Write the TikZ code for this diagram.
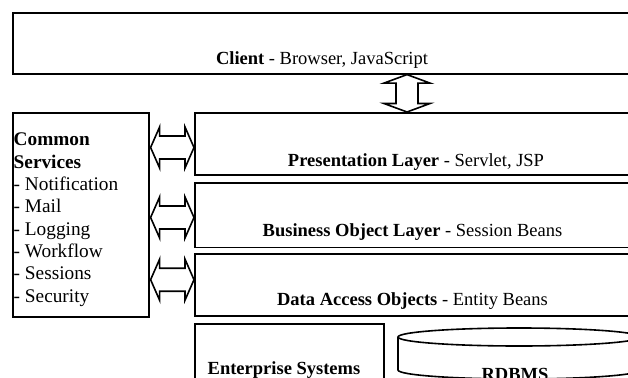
\documentclass[tikz,border=0pt]{standalone}
\usepackage{fontspec}
\setmainfont{Liberation Serif}
\usetikzlibrary{calc}
\tikzset{
  box/.style={draw=black, line width=1.6pt, rectangle, inner sep=0pt, anchor=north west},
  lbl/.style={inner sep=0pt, anchor=base, font=\fontsize{18.5}{22.3}\selectfont},
  blockarrow/.style={draw=black, line width=1.6pt, fill=white, line join=miter},
}
\newcommand\myharrow[2]{%
  \draw[blockarrow] (#1) -- ($(#1)+(9,-20.5)$) -- ($(#1)+(9,-11.5)$) -- ($(#2)+(-9,-11.5)$)
    -- ($(#2)+(-9,-20.5)$) -- (#2) -- ($(#2)+(-9,20.5)$) -- ($(#2)+(-9,11.5)$)
    -- ($(#1)+(9,11.5)$) -- ($(#1)+(9,20.5)$) -- cycle;}
\newcommand\myvarrow[2]{%
  \draw[blockarrow] (#1) -- ($(#1)+(23,8.5)$) -- ($(#1)+(11,8.5)$) -- ($(#2)+(11,-8.5)$)
    -- ($(#2)+(23,-8.5)$) -- (#2) -- ($(#2)+(-23,-8.5)$) -- ($(#2)+(-11,-8.5)$)
    -- ($(#1)+(-11,8.5)$) -- ($(#1)+(-23,8.5)$) -- cycle;}
\begin{document}
\begin{tikzpicture}[x=1pt,y=-1pt]
\useasboundingbox (0,0) rectangle (628,377);
\clip (0,0) rectangle (628,377);
\fill[white] (0,0) rectangle (628,377);
% boxes
\node[box, minimum width=640pt, minimum height=61pt] (client) at (12,12) {};
\node[box, minimum width=136pt, minimum height=204pt] (cs) at (12,112) {};
\node[box, minimum width=450pt, minimum height=62pt] (pres) at (194,112) {};
\node[box, minimum width=450pt, minimum height=64.7pt] (bus) at (194,182) {};
\node[box, minimum width=450pt, minimum height=62pt] (dao) at (194,253) {};
\node[box, minimum width=189pt, minimum height=80pt] (ent) at (194,323) {};
% cylinder
\draw[line width=1.6pt] (398,337) -- (398,370) arc[start angle=180, end angle=0, x radius=121, y radius=9] -- (640,337);
\draw[line width=1.6pt] (519,337) ellipse [x radius=121, y radius=9];
% texts
\node[lbl] (clientt) at (322,65) {\textbf{Client} - Browser, JavaScript};
\node[lbl] (prest) at (416,166.5) {\textbf{Presentation Layer} - Servlet, JSP};
\node[lbl] (bust) at (412.5,236.7) {\textbf{Business Object Layer} - Session Beans};
\node[lbl] (daot) at (412.5,305) {\textbf{Data Access Objects} - Entity Beans};
\node[lbl] (entt) at (284,374) {\textbf{Enterprise Systems}};
\node[lbl] (rdbms) at (515,380) {\textbf{RDBMS}};
\node[lbl, anchor=base west, align=left, font=\fontsize{19.3}{22.3}\selectfont] (cst) at (13.5,302)
  {\textbf{Common}\\\textbf{Services}\\- Notification\\- Mail\\- Logging\\- Workflow\\- Sessions\\- Security};
% arrows
\coordinate (vt) at ($(client.south west)+(395,0)$);
\coordinate (vb) at ($(pres.north west)+(213,0)$);
\myvarrow{vt}{vb}
\coordinate (h1l) at ($(cs.north east)+(1,35.5)$);
\coordinate (h1r) at ($(pres.north west)+(0,35.5)$);
\myharrow{h1l}{h1r}
\coordinate (h2l) at ($(cs.north east)+(1,105.5)$);
\coordinate (h2r) at ($(pres.north west)+(0,105.5)$);
\myharrow{h2l}{h2r}
\coordinate (h3l) at ($(cs.north east)+(1,167.7)$);
\coordinate (h3r) at ($(pres.north west)+(0,167.7)$);
\myharrow{h3l}{h3r}
\end{tikzpicture}
\end{document}
